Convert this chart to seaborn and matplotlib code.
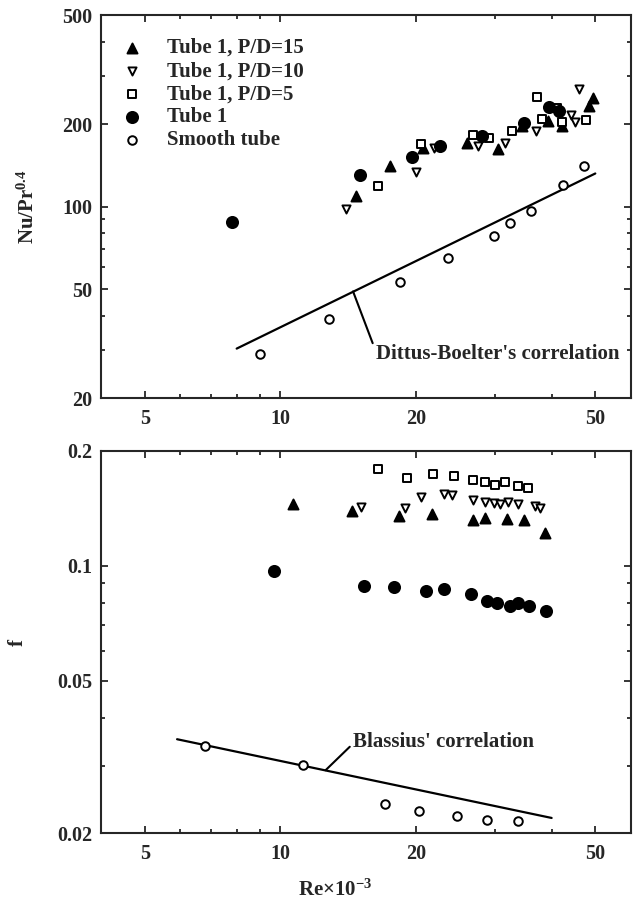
import matplotlib
matplotlib.use("Agg")
import matplotlib.pyplot as plt
import seaborn as sns
from matplotlib.ticker import FixedLocator, FixedFormatter, NullFormatter

# ---------------- data: top panel (Re x 10^-3 , Nu/Pr^0.4) ----------------
top_pd15_x = [14.7, 17.5, 20.7, 25.9, 30.4, 34.3, 39.3, 42.2, 48.3, 49.3]
top_pd15_y = [109, 141, 164, 171, 162, 197, 206, 196, 232, 248]
top_pd10_x = [14.0, 20.0, 21.9, 27.5, 31.6, 37.0, 44.2, 45.1, 46.0]
top_pd10_y = [98, 134, 163, 166, 170, 189, 216, 204, 269]
top_pd5_x = [16.5, 20.5, 26.7, 29.1, 32.6, 37.1, 38.1, 41.1, 42.2, 47.6]
top_pd5_y = [119, 169, 182, 178, 189, 250, 209, 228, 204, 207]
top_tube1_x = [7.83, 15.0, 19.6, 22.6, 28.0, 34.7, 39.4, 41.6]
top_tube1_y = [88, 130, 152, 166, 181, 202, 230, 224]
top_smooth_x = [9.03, 12.8, 18.4, 23.5, 29.8, 32.4, 36.0, 42.4, 47.1]
top_smooth_y = [29.0, 38.8, 53.2, 64.8, 78.3, 87.4, 96.4, 120, 140]
dittus_x = [8.0, 50.0]
dittus_y = [30.3, 132.0]

# ---------------- data: bottom panel (Re x 10^-3 , f) ----------------
bot_pd15_x = [10.66, 14.4, 18.3, 21.7, 26.8, 28.5, 31.9, 34.8, 38.7]
bot_pd15_y = [0.145, 0.1394, 0.1352, 0.1372, 0.1317, 0.1336, 0.133, 0.1317, 0.1222]
bot_pd10_x = [15.1, 18.9, 20.5, 23.1, 24.1, 26.8, 28.4, 29.8, 30.8, 32.0, 33.7, 36.7, 37.7]
bot_pd10_y = [0.1423, 0.1415, 0.1513, 0.154, 0.1535, 0.149, 0.1473, 0.1458, 0.1449,
              0.1473, 0.145, 0.1435, 0.1415]
bot_pd5_x = [16.5, 19.1, 21.8, 24.3, 26.8, 28.4, 29.9, 31.6, 33.6, 35.4]
bot_pd5_y = [0.1795, 0.170, 0.1745, 0.172, 0.1675, 0.1655, 0.163, 0.166, 0.162, 0.160]
bot_tube1_x = [9.69, 15.3, 17.9, 21.1, 23.1, 26.5, 28.8, 30.3, 32.4, 33.7, 35.7, 38.8]
bot_tube1_y = [0.0970, 0.0889, 0.0882, 0.0862, 0.0871, 0.0845, 0.0809, 0.0799, 0.0788,
               0.0799, 0.0788, 0.0764]
bot_smooth_x = [6.80, 11.2, 17.1, 20.3, 24.7, 28.8, 33.6]
bot_smooth_y = [0.0338, 0.0302, 0.0238, 0.0228, 0.0221, 0.0216, 0.0215]
blasius_x = [5.9, 40.0]
blasius_y = [0.0352, 0.0219]

legend_labels = ["Tube 1, P/D=15", "Tube 1, P/D=10", "Tube 1, P/D=5", "Tube 1", "Smooth tube"]
x_major = [5, 10, 20, 50]
x_minor = [6, 7, 8, 9, 30, 40]
top_major = [20, 50, 100, 200, 500]
top_minor = [30, 40, 60, 70, 80, 90, 300, 400]
bot_major = [0.02, 0.05, 0.1, 0.2]
bot_minor = [0.03, 0.04, 0.06, 0.07, 0.08, 0.09]

sns.set_style("ticks")
plt.rcParams.update({
    "font.family": ["Liberation Serif", "DejaVu Serif"],
    "font.weight": "bold",
    "axes.labelweight": "bold",
    "mathtext.fontset": "custom",
    "mathtext.rm": "Liberation Serif:bold",
    "mathtext.it": "Liberation Serif:italic:bold",
    "mathtext.bf": "Liberation Serif:bold",
    "axes.linewidth": 1.5,
})

fig = plt.figure(figsize=(6.33, 9.10), dpi=100)
ax1 = fig.add_axes([0.1596, 0.5626, 0.8372, 0.4209])
ax2 = fig.add_axes([0.1596, 0.0846, 0.8372, 0.4198])

styles = [
    ("^", 52, "black"),
    ("v", 34, "white"),
    ("s", 34, "white"),
    ("o", 64, "black"),
    ("o", 38, "white"),
]


def draw(ax, series, line_x, line_y):
    handles = []
    for (x, y), (m, s, face), lab in zip(series, styles, legend_labels):
        sns.scatterplot(x=x, y=y, marker=m, s=s, color=face, edgecolor="black",
                        linewidth=1.4, ax=ax, label=lab, legend=False, zorder=3)
        handles.append(ax.collections[-1])
    sns.lineplot(x=line_x, y=line_y, color="black", linewidth=1.6, ax=ax,
                 legend=False, zorder=2)
    ax.set_xscale("log")
    ax.set_yscale("log")
    ax.set_xlim(4, 60)
    ax.xaxis.set_major_locator(FixedLocator(x_major))
    ax.xaxis.set_major_formatter(FixedFormatter([str(v) for v in x_major]))
    ax.xaxis.set_minor_locator(FixedLocator(x_minor))
    ax.xaxis.set_minor_formatter(NullFormatter())
    ax.tick_params(which="both", direction="in", top=True, right=True,
                   labelsize=14.5, width=1.3)
    ax.tick_params(which="major", length=5)
    ax.tick_params(which="minor", length=2.6)
    ax.tick_params(axis="x", pad=8)
    ax.tick_params(axis="y", pad=6)
    for lab in ax.get_xticklabels() + ax.get_yticklabels():
        lab.set_fontweight("bold")
    return handles


h = draw(ax1, [(top_pd15_x, top_pd15_y), (top_pd10_x, top_pd10_y), (top_pd5_x, top_pd5_y),
               (top_tube1_x, top_tube1_y), (top_smooth_x, top_smooth_y)], dittus_x, dittus_y)
ax1.set_ylim(20, 500)
ax1.yaxis.set_major_locator(FixedLocator(top_major))
ax1.yaxis.set_major_formatter(FixedFormatter([str(v) for v in top_major]))
ax1.yaxis.set_minor_locator(FixedLocator(top_minor))
ax1.yaxis.set_minor_formatter(NullFormatter())
for lab in ax1.get_yticklabels():
    lab.set_fontweight("bold")
ax1.set_xlabel("")
ax1.set_ylabel("Nu/Pr$^{0.4}$", fontsize=15, fontweight="bold")
ax1.yaxis.set_label_coords(-0.118, 0.5)
ax1.annotate("Dittus-Boelter's correlation", xy=(14.5, 49.0), xytext=(16.3, 29.0),
             fontsize=15, fontweight="bold", ha="left", va="center",
             arrowprops=dict(arrowstyle="-", lw=1.5, color="black",
                             shrinkA=0, shrinkB=0, relpos=(0.0, 0.6)))
ax1.legend(handles=h, labels=legend_labels, loc="upper left",
           bbox_to_anchor=(0.038, 0.94), frameon=False,
           borderaxespad=0, borderpad=0, handlelength=1.0, handletextpad=1.2,
           labelspacing=0.15, prop={"weight": "bold", "size": 15})

draw(ax2, [(bot_pd15_x, bot_pd15_y), (bot_pd10_x, bot_pd10_y), (bot_pd5_x, bot_pd5_y),
           (bot_tube1_x, bot_tube1_y), (bot_smooth_x, bot_smooth_y)], blasius_x, blasius_y)
ax2.set_ylim(0.02, 0.2)
ax2.yaxis.set_major_locator(FixedLocator(bot_major))
ax2.yaxis.set_major_formatter(FixedFormatter([str(v) for v in bot_major]))
ax2.yaxis.set_minor_locator(FixedLocator(bot_minor))
ax2.yaxis.set_minor_formatter(NullFormatter())
for lab in ax2.get_yticklabels():
    lab.set_fontweight("bold")
ax2.set_ylabel("f", fontsize=15, fontweight="bold")
ax2.yaxis.set_label_coords(-0.138, 0.5)
ax2.set_xlabel("Re×10$^{-3}$", fontsize=15, fontweight="bold")
ax2.xaxis.set_label_coords(0.442, -0.123)
ax2.xaxis.label.set_va("top")
ax2.annotate("Blassius' correlation", xy=(12.6, 0.0292), xytext=(14.5, 0.0347),
             fontsize=15, fontweight="bold", ha="left", va="center",
             arrowprops=dict(arrowstyle="-", lw=1.5, color="black",
                             shrinkA=0, shrinkB=0, relpos=(0.0, 0.4)))

fig.savefig("out.png", dpi=100)
